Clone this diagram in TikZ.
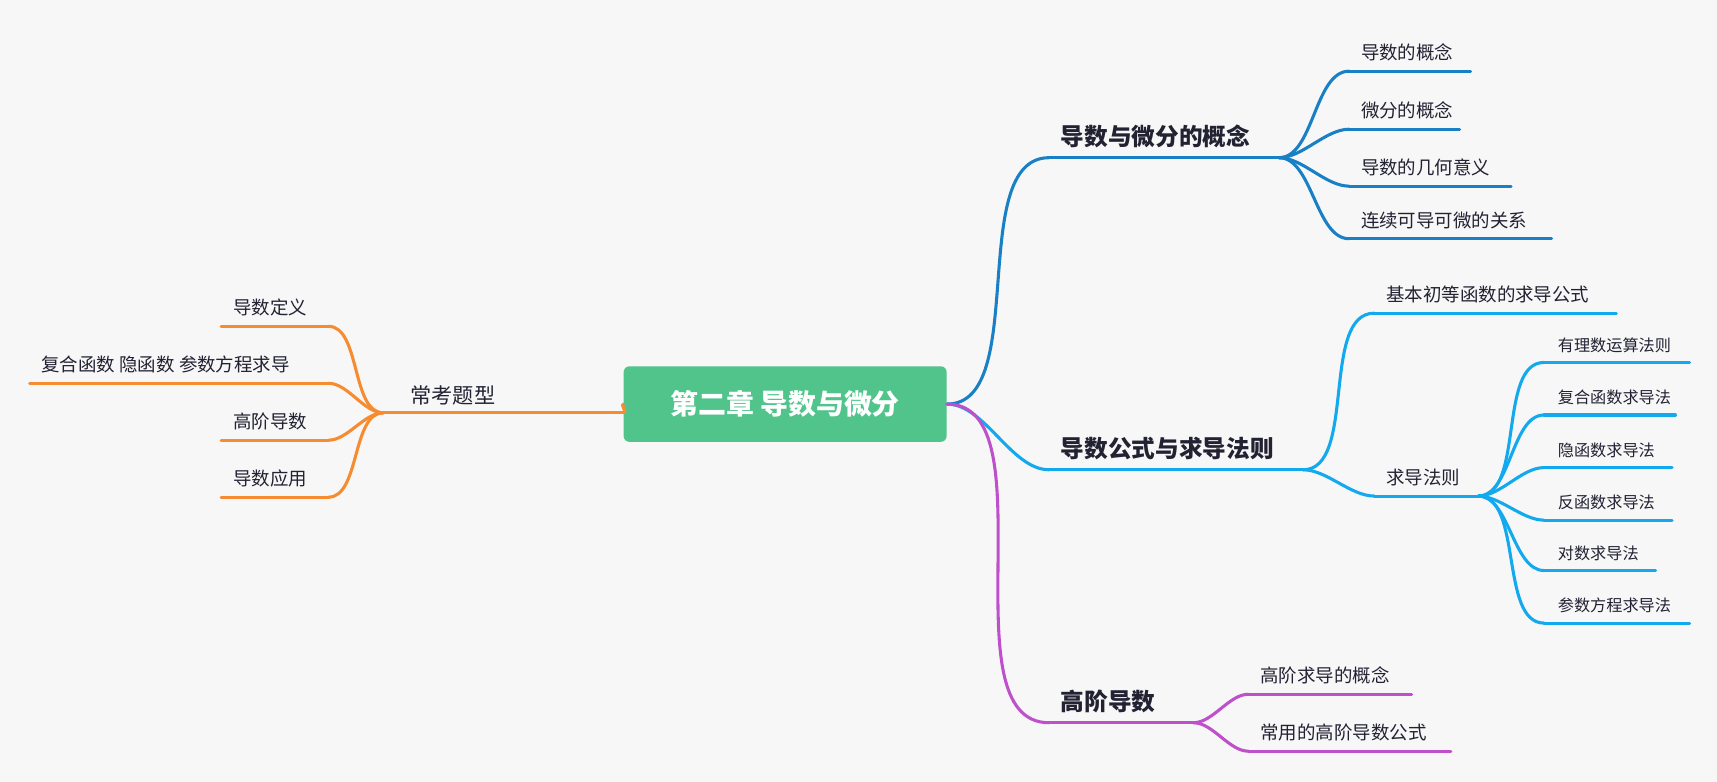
\documentclass[tikz,border=0pt]{standalone}
\usepackage{fontspec}
\setmainfont{Noto Sans CJK SC}
\usetikzlibrary{positioning}
\definecolor{bgray}{HTML}{F7F7F7}
\definecolor{cgreen}{HTML}{50C48A}
\definecolor{cdblue}{HTML}{1A80C6}
\definecolor{clblue}{HTML}{12A9EE}
\definecolor{cpurple}{HTML}{BF50CB}
\definecolor{corange}{HTML}{F68B2F}
\definecolor{ctext}{HTML}{222233}

% a topic: start point, end point and its text above the line
\newcommand{\topic}[6]{%
  \coordinate (#1-s) at (#2,#3);
  \coordinate (#1-e) at (#4,#3);
  \draw[branch, #6] (#1-s) -- (#1-e);
  \node[#5] (#1) at (#2,#3) {};}

\begin{document}
\begin{tikzpicture}[x=0.02cm, y=-0.02cm]
  \tikzset{
    branch/.style={line width=1.6pt, line cap=round},
    link/.style={branch, out=0, in=180, looseness=0.8},
    main/.style={font=\bfseries\fontsize{12.3}{13}\selectfont, text=ctext, anchor=south west, inner xsep=6pt, inner ysep=5pt},
    sub/.style={font=\fontsize{9.6}{10}\selectfont, text=ctext, anchor=south west, inner xsep=6pt, inner ysep=5pt},
    leaf/.style={font=\fontsize{8.4}{9}\selectfont, text=ctext, anchor=south west, inner xsep=7pt, inner ysep=5pt}
  }
  \fill[bgray] (0,0) rectangle (1568,714);
  \useasboundingbox (0,0) rectangle (1568,714);

  % centre
  \node[fill=cgreen, rounded corners=3pt, minimum width=5.9cm, minimum height=1.38cm,
        text=white, font=\bfseries\fontsize{14.5}{15}\selectfont] (root) at (717,369) {第二章 导数与微分};

  % concepts
  \topic{con}{958}{144}{1168}{main}{cdblue}
  \node[main] at (con-s) {导数与微分的概念};
  \draw[link, cdblue] (root.east) to (con-s);
  \foreach \n/\y/\e/\t in {a/65/1343/导数的概念, b/118/1333/微分的概念,
                           c/170/1380/导数的几何意义, d/218/1417/连续可导可微的关系} {
    \topic{con\n}{1232}{\y}{\e}{sub}{cdblue}
    \node[sub] at (con\n-s) {\t};
    \draw[link, cdblue] (con-e) to (con\n-s);
  }

  % formulas and rules
  \topic{rul}{958}{429}{1190}{main}{clblue}
  \node[main] at (rul-s) {导数公式与求导法则};
  \draw[link, clblue] (root.east) to (rul-s);
  \topic{rula}{1255}{286}{1476}{sub}{clblue}
  \node[sub] at (rula-s) {基本初等函数的求导公式};
  \draw[link, clblue] (rul-e) to (rula-s);
  \topic{rulb}{1255}{453}{1350}{sub}{clblue}
  \node[sub] at (rulb-s) {求导法则};
  \draw[link, clblue] (rul-e) to (rulb-s);
  \foreach \n/\y/\e/\t in {a/331/1543/有理数运算法则, b/379/1530/复合函数求导法,
                           c/427/1527/隐函数求导法, d/475/1527/反函数求导法,
                           e/521/1512/对数求导法, f/569/1543/参数方程求导法} {
    \topic{law\n}{1410}{\y}{\e}{leaf}{clblue}
    \node[leaf] at (law\n-s) {\t};
    \draw[link, clblue] (rulb-e) to (law\n-s);
  }

  % higher order
  \topic{hig}{958}{660}{1090}{main}{cpurple}
  \node[main] at (hig-s) {高阶导数};
  \draw[link, cpurple] (root.east) to (hig-s);
  \foreach \n/\y/\e/\t in {a/634/1289/高阶求导的概念, b/686/1325/常用的高阶导数公式} {
    \topic{hig\n}{1140}{\y}{\e}{sub}{cpurple}
    \node[sub] at (hig\n-s) {\t};
    \draw[link, cpurple] (hig-e) to (hig\n-s);
  }

  % left: exam topics
  \topic{exa}{350}{377}{570}{sub}{corange}
  \node[sub, font=\fontsize{11}{12}\selectfont, inner xsep=14pt, inner ysep=4pt] at (exa-s) {常考题型};
  \draw[link, corange] (root.west) to[out=180, in=0] (exa-e);
  \foreach \n/\y/\s/\t in {a/298/202/导数定义, b/350/27/复合函数 隐函数 参数方程求导,
                           c/402/202/高阶导数, d/454/202/导数应用} {
    \topic{exa\n}{\s}{\y}{300}{sub}{corange}
    \node[sub] at (exa\n-s) {\t};
    \draw[link, corange] (exa-s) to[out=180, in=0] (exa\n-e);
  }
\end{tikzpicture}
\end{document}
